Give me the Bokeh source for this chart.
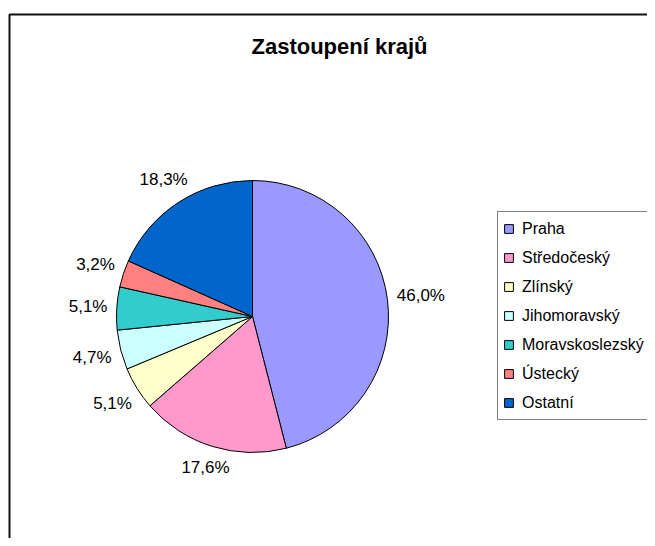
import math
from bokeh.plotting import figure
from bokeh.models import ColumnDataSource, Range1d, Legend, LegendItem, Label
from bokeh.core.properties import value
from bokeh.embed import file_html
from bokeh.resources import INLINE

# ---- data ----
title_text = "Zastoupení krajů"
regions = ["Praha", "Středočeský", "Zlínský", "Jihomoravský", "Moravskoslezský", "Ústecký", "Ostatní"]
shares = [46.0, 17.6, 5.1, 4.7, 5.1, 3.2, 18.3]
colors = ["#9999FF", "#FF99CC", "#FFFFCC", "#CCFFFF", "#33CCCC", "#FF8080", "#0066CC"]

# ---- layout ----
W, H = 647, 538
FONT = "Liberation Sans"
LABEL_SIZE = 17
cx, cy, r = 252, 222, 136

p = figure(width=W, height=H, x_range=Range1d(0, W), y_range=Range1d(0, H),
           x_axis_type=None, y_axis_type=None, output_backend="svg",
           toolbar_location=None, min_border=0)
p.grid.visible = False
p.outline_line_color = None
p.background_fill_color = "white"
p.border_fill_color = "white"

# chart area border (extends beyond the window on right/bottom)
p.quad(left=[9], right=[W + 60], top=[H - 14], bottom=[-60],
       fill_color=None, line_color="#111111", line_width=2)

total = sum(shares)
starts, ends = [], []
cum = 0.0
for s in shares:
    a0 = math.pi / 2 - 2 * math.pi * cum / total
    cum += s
    a1 = math.pi / 2 - 2 * math.pi * cum / total
    starts.append(a1)
    ends.append(a0)

src = ColumnDataSource(dict(region=regions, share=shares, color=colors,
                            start=starts, end=ends))
wr = p.wedge(x=cx, y=cy, radius=r, start_angle="start", end_angle="end",
             fill_color="color", line_color="black", line_width=1, source=src)

# data labels, placed radially outside the pie
def text_width(s, size):
    w = {'%': 0.889, ',': 0.278}
    return sum(w.get(c, 0.556) for c in s) * size

labels = [("%.1f" % v).replace(".", ",") + "%" for v in shares]
lx, ly = [], []
th = 0.75 * LABEL_SIZE
for lab, a0, a1 in zip(labels, starts, ends):
    mid = (a0 + a1) / 2
    dx, dy = math.cos(mid), math.sin(mid)
    half = abs(dx) * text_width(lab, LABEL_SIZE) / 2 + abs(dy) * th / 2
    d = r + 9 + half
    lx.append(cx + d * dx)
    ly.append(cy + d * dy)

p.text(x=lx, y=ly, text=labels, text_align="center", text_baseline="middle",
       text_font=value(FONT), text_font_size="%dpx" % LABEL_SIZE, text_color="black")

# title
p.add_layout(Label(x=339, y=H - 46, text=title_text, text_align="center",
                   text_baseline="middle", text_font=FONT, text_font_style="bold",
                   text_font_size="22px", text_color="black"))

# legend
items = [LegendItem(label=regions[i], renderers=[wr], index=i) for i in range(len(regions))]
legend = Legend(items=items, location=(497, H - 420), orientation="vertical",
                border_line_color="black", border_line_width=1,
                background_fill_color="white", background_fill_alpha=1.0,
                padding=5, spacing=6, margin=0, label_height=23, label_width=150,
                glyph_width=11, glyph_height=11, label_standoff=8,
                label_text_font=FONT, label_text_font_size="16px",
                label_text_color="black")
p.add_layout(legend)

open("out.html", "w").write(file_html(p, INLINE))
